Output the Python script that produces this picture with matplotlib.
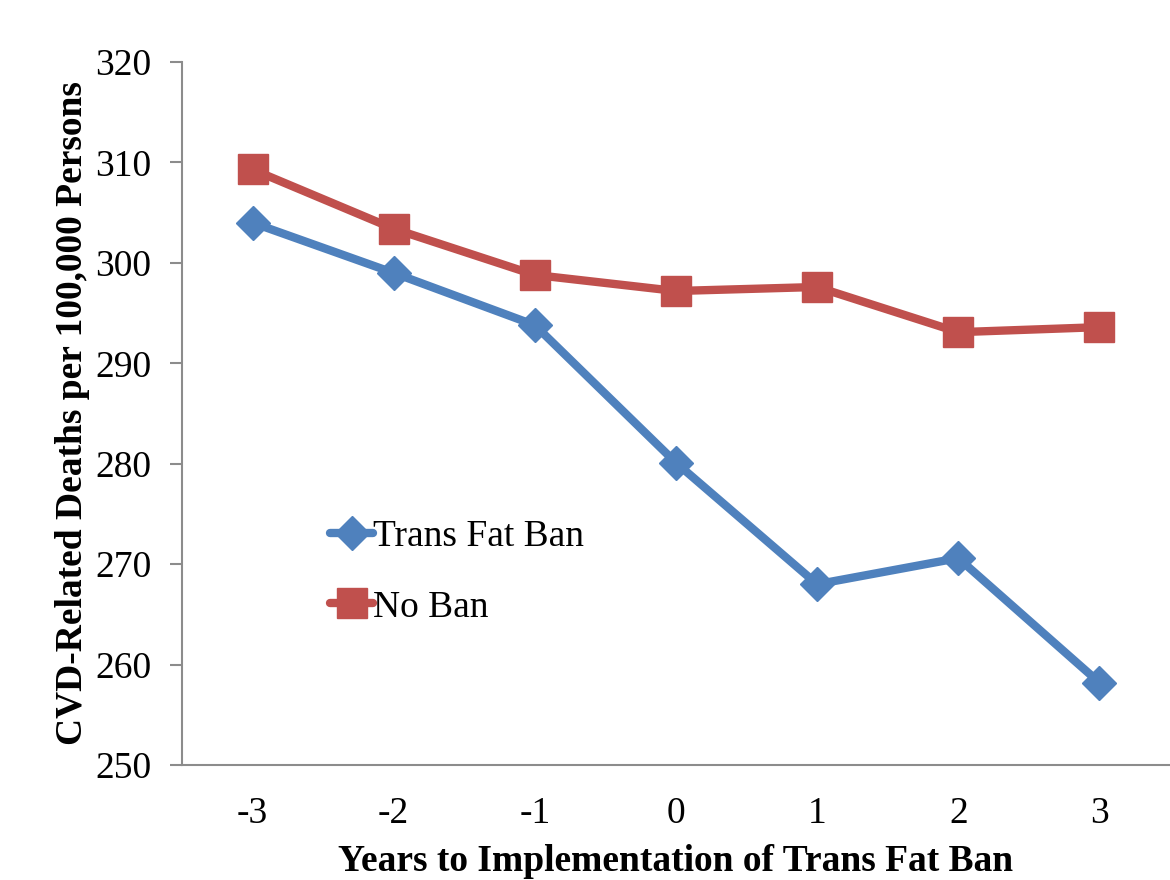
import numpy as np
import matplotlib
matplotlib.use("Agg")
import matplotlib.pyplot as plt

years = ["-3", "-2", "-1", "0", "1", "2", "3"]
trans_fat_ban = [304.0, 299.0, 293.8, 280.1, 268.0, 270.6, 258.2]
no_ban = [309.3, 303.4, 298.8, 297.2, 297.6, 293.1, 293.6]

blue = "#4F81BD"
red = "#C0504D"
spine_col = "#8C8C8C"

plt.rcParams["font.family"] = ["Liberation Serif", "DejaVu Serif"]

fig = plt.figure(figsize=(11.7, 8.8), dpi=100)
ax = fig.add_axes([0.1555, 0.1307, 0.8445, 0.7988])

x = np.arange(len(years))
ax.plot(x, trans_fat_ban, color=blue, lw=6, marker="D", ms=17,
        label="Trans Fat Ban", solid_joinstyle="round", solid_capstyle="round")
ax.plot(x, no_ban, color=red, lw=6, marker="s", ms=21,
        label="No Ban", solid_joinstyle="round", solid_capstyle="round")

ax.set_xlim(-0.5, len(years) - 0.5)
ax.set_ylim(250, 320)
ax.set_yticks(np.arange(250, 321, 10))
ax.set_xticks(x)
ax.set_xticklabels(years)

for side in ["top", "right"]:
    ax.spines[side].set_visible(False)
for side in ["left", "bottom"]:
    ax.spines[side].set_color(spine_col)
    ax.spines[side].set_linewidth(1.5)

ax.tick_params(axis="y", direction="out", length=9, width=1.5, color=spine_col,
               labelsize=27, pad=13)
ax.tick_params(axis="x", length=0, labelsize=27, pad=23)

ax.set_xlabel("Years to Implementation of Trans Fat Ban", fontsize=27,
              fontweight="bold", labelpad=9)
ax.set_ylabel("CVD-Related Deaths per 100,000 Persons", fontsize=27,
              fontweight="bold", labelpad=4)

leg = ax.legend(loc="upper left", bbox_to_anchor=(0.135, 0.37), frameon=False,
                fontsize=27, handlelength=1.15, handletextpad=0.0,
                labelspacing=0.95, borderaxespad=0)

fig.savefig("out.png", dpi=100)
